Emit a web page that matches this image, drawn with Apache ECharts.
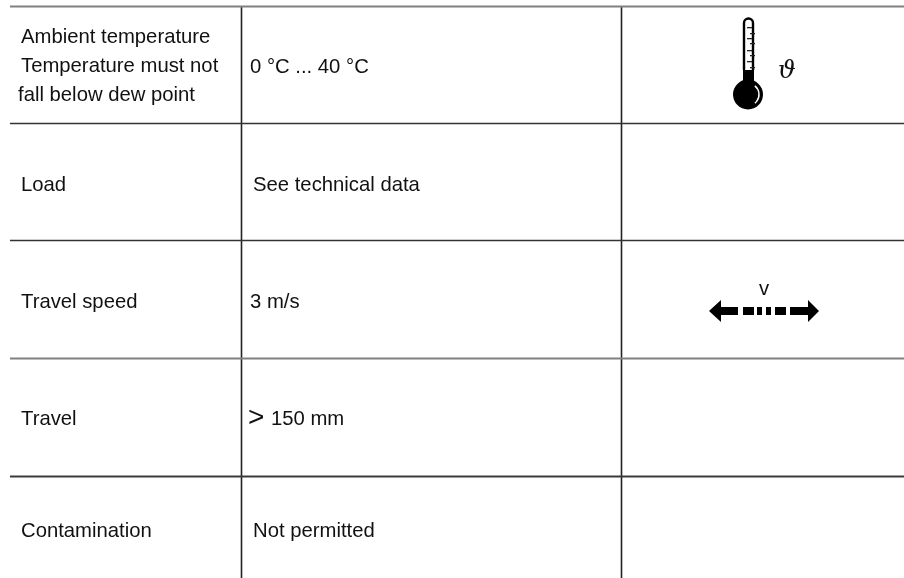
<!DOCTYPE html>
<html><head><meta charset="utf-8">
<style>html,body{margin:0;padding:0;background:#fff}#c{width:904px;height:578px}</style>
<script src="https://cdn.jsdelivr.net/npm/echarts@6/dist/echarts.min.js"></script>
</head><body><div id="c"></div>
<script>
const parameters = ['Ambient temperature\nTemperature must not\nfall below dew point','Load','Travel speed','Travel','Contamination'];
const values = ['0 °C ... 40 °C','See technical data','3 m/s','> 150 mm','Not permitted'];
const symbols = ['ϑ','','v','',''];

const chart = echarts.init(document.getElementById('c'), null, {renderer:'canvas'});
const font = '"Liberation Sans", Arial, sans-serif';
const fs = 20.3;
const rowY = [6,123,240,358,476];
const rowColor = ['#808080','#333','#333','#808080','#3a3a3a'];
const rowWidth = [2.2,1.6,1.6,2.2,2];
const colX = [241,621];
const textY = [65,185,302,419,531];
const valueX = [250,253,250,250,253];
const els = [];
const ink = '#111';
function line(x1,y1,x2,y2,color,w){els.push({type:'line',shape:{x1,y1,x2,y2},style:{stroke:color,lineWidth:w},silent:true,z:1});}
function rect(x,y,width,height,fill){els.push({type:'rect',shape:{x,y,width,height},style:{fill:fill||'#000'},z:3});}
function txt(x,y,text,o){els.push({type:'text',x,y,style:Object.assign({text,font:fs+'px '+font,fill:ink,textAlign:'left',textVerticalAlign:'middle'},o||{}),z:5});}

colX.forEach(x=>line(x+.5,6,x+.5,578,'#222',1.6));
rowY.forEach((y,i)=>line(10,y+.5,904,y+.5,rowColor[i],rowWidth[i]));

parameters.forEach((p,i)=>{
  if(i===0){
    const parts=p.split('\n');
    txt(21,37,parts[0]);txt(21,66,parts[1]);txt(18,95,parts[2]);
  } else txt(21,textY[i],p);
});
values.forEach((v,i)=>{
  if(v.startsWith('> ')){
    txt(248,textY[i]-1,'>',{font:'28px '+font});
    txt(271,textY[i],v.slice(2));
  } else txt(valueX[i],i===0?67:textY[i],v);
});

// thermometer
els.push({type:'polyline',shape:{points:[[744,70],[744,23]]},style:{fill:'none',stroke:'#000',lineWidth:2.4},z:3});
els.push({type:'polyline',shape:{points:[[753,23],[753,70]]},style:{fill:'none',stroke:'#000',lineWidth:2.4},z:3});
els.push({type:'arc',shape:{cx:748.5,cy:23,r:4.5,startAngle:Math.PI,endAngle:2*Math.PI},style:{stroke:'#000',lineWidth:2.4,fill:'none'},z:3});
rect(743,70,11,16);
[27,33,38,43,50,55,61,67].forEach((y,i)=>rect(i%2?750:747,y,5,1.3,'#222'));
els.push({type:'circle',shape:{cx:748,cy:94.5,r:15},style:{fill:'#000'},z:3});
els.push({type:'arc',shape:{cx:748,cy:94.5,r:11,startAngle:-0.9,endAngle:0.9},style:{stroke:'#fff',lineWidth:1.4,fill:'none'},z:4});
txt(778,71,symbols[0],{font:'italic 25px "DejaVu Serif", serif'});

// arrow
txt(764,289,symbols[2],{textAlign:'center'});
els.push({type:'polygon',shape:{points:[[709,311],[721,300],[721,307],[738,307],[738,315],[721,315],[721,322]]},style:{fill:'#000'},z:3});
els.push({type:'polygon',shape:{points:[[819,311],[808,300],[808,307],[790,307],[790,315],[808,315],[808,322]]},style:{fill:'#000'},z:3});
[[743,11],[757,5],[766,5],[775,11]].forEach(d=>rect(d[0],307,d[1],8));

chart.setOption({animation:false,backgroundColor:'#fff',graphic:{elements:els}});
</script></body></html>
